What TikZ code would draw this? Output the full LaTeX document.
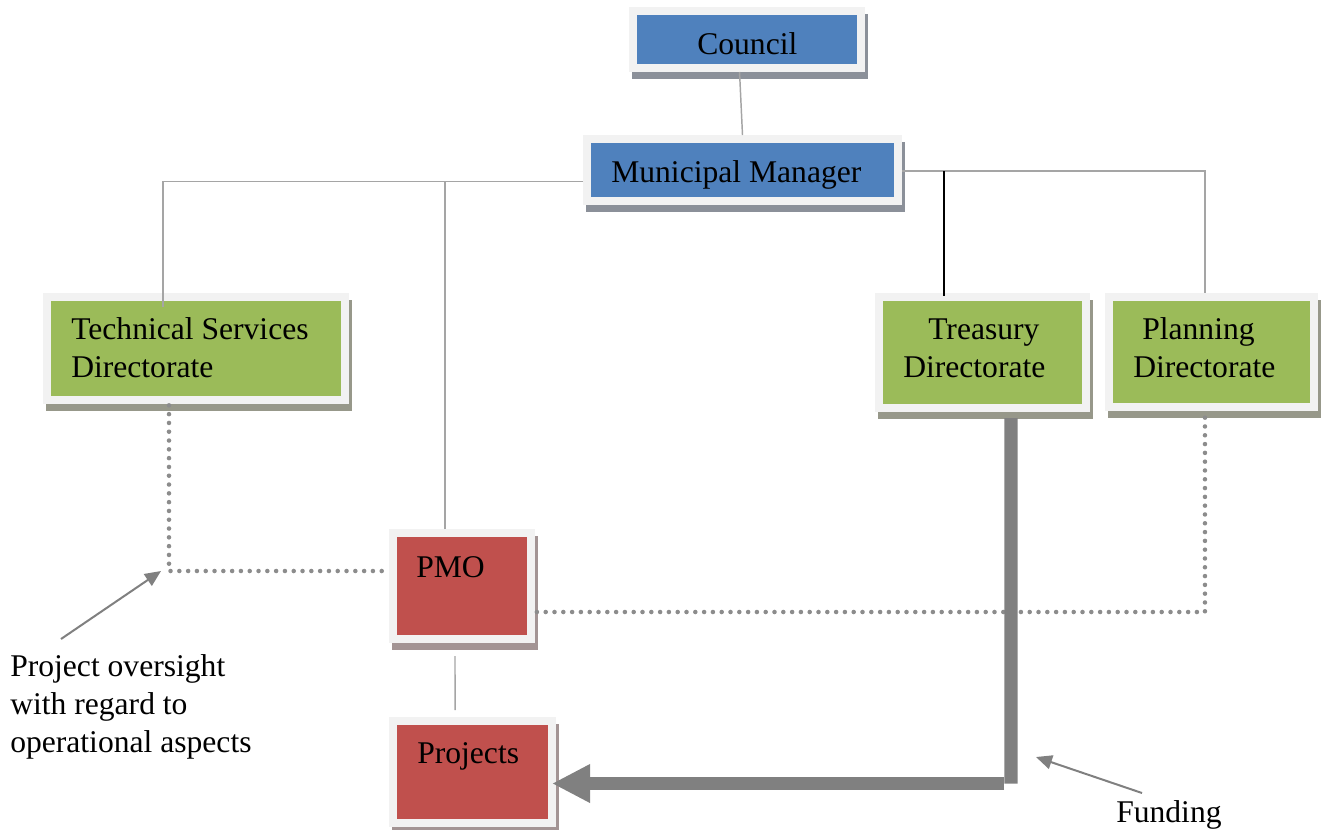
\documentclass[tikz,border=0pt]{standalone}
\usepackage{fontspec}
\setmainfont{Liberation Serif}
\usetikzlibrary{arrows.meta}

\definecolor{boxblue}{HTML}{4F81BD}
\definecolor{boxgreen}{HTML}{9BBB59}
\definecolor{boxred}{HTML}{C0504D}
\definecolor{framegrey}{HTML}{F2F2F2}
\definecolor{shblue}{HTML}{8B9099}
\definecolor{shgreen}{HTML}{97988A}
\definecolor{shred}{HTML}{A39494}
\definecolor{conngrey}{HTML}{A5A5A5}
\definecolor{dotgrey}{HTML}{8C8C8C}
\definecolor{fundgrey}{HTML}{808080}

\tikzset{
  box/.style 2 args={draw=framegrey, line width=6pt, fill=#1, outer sep=3pt,
    inner sep=0pt,
    preaction={draw=#2, fill=#2, line width=6pt,
      transform canvas={xshift=2.6pt, yshift=-4.9pt}}},
  bluebox/.style={box={boxblue}{shblue}},
  greenbox/.style={box={boxgreen}{shgreen}},
  redbox/.style={box={boxred}{shred}},
  lbl/.style={font=\fontsize{23.7}{28.5}\selectfont, inner sep=0pt,
    anchor=base west, align=left},
  conn/.style={draw=conngrey, line width=1.1pt},
  dots/.style={draw=dotgrey, line width=3.4pt, line cap=round,
    dash pattern=on 0pt off 6.6pt},
  fund/.style={draw=fundgrey, line width=10pt},
  note/.style={draw=fundgrey, line width=1.5pt,
    -{Triangle[length=12pt, width=10.5pt]}},
}

\begin{document}
\begin{tikzpicture}[x=0.75pt, y=-0.75pt]
\useasboundingbox (0,0) rectangle (1321,829);

\coordinate (lbus) at (163,181.5);
\coordinate (rbus) at (944,171);
\coordinate (fcorner) at (1011,783.5);

% boxes
\node[bluebox, minimum width=171pt, minimum height=42.75pt] (council) at (747,39.5) {};
\node[bluebox, minimum width=233.25pt, minimum height=46.5pt] (mm) at (742.5,170) {};
\node[greenbox, minimum width=223.5pt, minimum height=77.25pt] (tech) at (196,348.5) {};
\node[greenbox, minimum width=155.25pt, minimum height=83.25pt] (treasury) at (982.5,352.5) {};
\node[greenbox, minimum width=153.75pt, minimum height=82.5pt] (planning) at (1211.5,352) {};
\node[redbox, minimum width=103.5pt, minimum height=79.5pt] (pmo) at (462,586) {};
\node[redbox, minimum width=119.25pt, minimum height=76.5pt] (projects) at (472.5,772) {};

% box texts (multi-line texts are placed by the baseline of their last line)
\node[lbl] (tcouncil) at (697,54) {Council};
\node[lbl] (tmm) at (611,182) {Municipal Manager};
\node[lbl] (ttech) at (71,377) {Technical Services\\Directorate};
\node[lbl] (ttreasury) at (903,377) {\hspace*{18.75pt}Treasury\\Directorate};
\node[lbl] (tplanning) at (1133,377) {\hspace*{6.75pt}Planning\\Directorate};
\node[lbl] (tpmo) at (416,577) {PMO};
\node[lbl] (tprojects) at (417,763) {Projects};

% reporting lines
\draw[conn] ([xshift=-5.6pt]council.south) -- (mm.north);
\draw[conn] (mm.west |- lbus) -- (lbus)
  -- ([xshift=-24.75pt,yshift=-10.5pt]tech.north);
\draw[conn] ([xshift=-12.75pt]pmo.north) -- ([xshift=-12.75pt]pmo.north |- lbus);
\draw[conn] ([yshift=-0.75pt]mm.east) -| ([xshift=-4.9pt]planning.north);
\draw[black, line width=1.1pt] ([xshift=-28.9pt,yshift=-2pt]treasury.north)
  -- ([xshift=-28.9pt]treasury.north |- rbus);
\draw[conn] ([xshift=-5.25pt,yshift=-9.75pt]pmo.south)
  -- ([xshift=-13.1pt,yshift=5.25pt]projects.north);

% oversight lines
\draw[dots] ([xshift=-20.25pt,yshift=-1pt]tech.south) |- ([yshift=11.25pt]pmo.west);
\draw[dots] ([xshift=-4.9pt,yshift=-5pt]planning.south) |- ([yshift=-19.5pt]pmo.east);

% funding flow
\draw[fund] ([xshift=21.4pt,yshift=-4.5pt]treasury.south) -- (fcorner);
\draw[fund, -{Triangle[length=28.5pt, width=27pt]}]
  ([xshift=-5.25pt]fcorner) -- ([xshift=-3pt]projects.east |- fcorner);

% annotations
\node[lbl] (toversight) at (10,752) {Project oversight\\with regard to\\operational aspects};
\node[lbl] (tfunding) at (1116,822) {Funding};
\coordinate (ovtail) at (61,639);
\coordinate (ovtip) at (161,571);
\coordinate (fdtail) at (1142,793);
\coordinate (fdtip) at (1036,757);
\draw[note] (ovtail) -- (ovtip);
\draw[note] (fdtail) -- (fdtip);
\end{tikzpicture}
\end{document}
